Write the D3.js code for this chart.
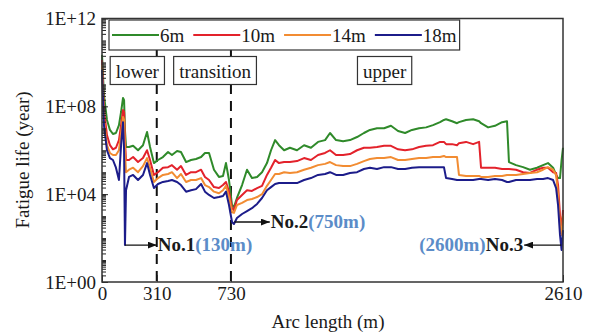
<!DOCTYPE html>
<html>
<head>
<meta charset="utf-8">
<script src="https://cdn.jsdelivr.net/npm/d3@7"></script>
<style>
  body { margin: 0; background: #fff; }
  svg text { font-family: "Liberation Serif", "Times New Roman", serif; fill: #1a1a1a; }
</style>
</head>
<body>
<figure id="chart" style="margin:0"></figure>
<script>
// arc length along the route (m)
const arcLength = [0, 11, 28, 45, 62, 79, 96, 108, 119, 125,
  130, 136, 153, 176, 204, 232, 255, 272, 294, 317,
  345, 374, 396, 425, 447, 476, 504, 532, 561, 583,
  606, 634, 662, 685, 702, 719, 736, 747, 764, 793,
  821, 849, 878, 906, 934, 957, 980, 1002, 1031, 1064,
  1104, 1144, 1183, 1223, 1263, 1291, 1325, 1365, 1404, 1444,
  1483, 1517, 1557, 1597, 1636, 1676, 1716, 1755, 1795, 1835,
  1874, 1914, 1936, 1948, 1982, 2010, 2021, 2061, 2101, 2135,
  2146, 2186, 2225, 2265, 2293, 2304, 2344, 2384, 2423, 2463,
  2497, 2525, 2554, 2571, 2582, 2593, 2602, 2610];

// fatigue life (year) per depth
const life6m = [2.2e10, 3.3e8, 2.4e7, 8.4e6, 5.5e6, 6.1e6, 1.4e7, 5.5e7, 2.4e8, 1.9e8,
  8.4e6, 1.4e6, 1.4e6, 1.6e6, 1.0e6, 1.7e6, 6.8e6, 1.4e6, 2.6e5, 3.6e5,
  4.9e5, 8.3e5, 6.1e5, 9.2e5, 8.3e5, 2.9e5, 3.6e5, 4.0e5, 4.9e5, 7.5e5,
  7.5e5, 1.3e5, 6.1e4, 6.7e4, 2.6e5, 4.4e4, 3.2e3, 2.6e3, 6.7e3, 2.6e4,
  1.3e5, 5.4e4, 6.1e4, 1.0e5, 2.6e5, 1.0e6, 2.9e6, 1.7e6, 1.0e6, 1.3e6,
  1.0e6, 1.7e6, 1.3e6, 2.4e6, 2.9e6, 6.1e6, 2.9e6, 2.6e6, 2.9e6, 4.0e6,
  6.1e6, 8.4e6, 1.0e7, 1.0e7, 1.3e7, 7.5e6, 6.1e6, 8.4e6, 1.0e7, 1.1e7,
  1.4e7, 1.9e7, 2.4e7, 2.6e7, 2.1e7, 1.7e7, 1.9e7, 2.4e7, 2.6e7, 2.1e7,
  1.7e7, 1.1e7, 1.3e7, 1.9e7, 2.1e7, 2.9e5, 2.1e5, 1.7e5, 1.3e5, 1.6e5,
  2.1e5, 2.6e5, 1.6e5, 7.5e4, 5.4e4, 5.4e4, 3.6e5, 1.3e6];

const life10m = [1.3e10, 6.8e7, 4.9e6, 1.7e6, 1.1e6, 1.3e6, 2.9e6, 1.4e7, 6.8e7, 5.5e7,
  2.9e6, 3.6e5, 3.6e5, 4.9e5, 2.9e5, 4.4e5, 1.0e6, 3.6e5, 7.5e4, 1.0e5,
  1.6e5, 1.7e5, 2.1e5, 1.3e5, 1.9e5, 7.5e4, 1.0e5, 1.0e5, 1.3e5, 6.1e4,
  4.4e4, 2.1e4, 1.9e4, 2.6e4, 3.6e4, 1.3e4, 2.3e3, 1.9e3, 5.4e3, 9.2e3,
  1.5e4, 1.4e4, 1.9e4, 2.4e4, 7.5e4, 1.6e5, 3.6e5, 2.6e5, 2.9e5, 2.9e5,
  3.2e5, 4.4e5, 3.6e5, 6.1e5, 7.5e5, 1.0e6, 6.1e5, 6.1e5, 6.7e5, 1.0e6,
  1.3e6, 1.3e6, 1.4e6, 1.6e6, 1.6e6, 1.1e6, 1.0e6, 1.1e6, 1.4e6, 1.6e6,
  1.7e6, 2.4e6, 2.4e6, 1.9e6, 1.9e6, 1.7e6, 2.1e6, 2.4e6, 1.9e6, 2.4e6,
  1.6e5, 1.6e5, 1.6e5, 1.4e5, 1.4e5, 1.4e5, 1.3e5, 1.0e5, 9.2e4, 1.3e5,
  1.6e5, 1.6e5, 1.0e5, 9.2e4, 2.6e4, 1.1e3, 2.3e2, 1.9e3];

const life14m = [7.6e9, 2.4e7, 1.7e6, 7.5e5, 6.1e5, 6.1e5, 1.0e6, 6.1e6, 3.3e7, 2.4e7,
  1.0e6, 1.0e5, 1.3e5, 1.6e5, 1.0e5, 1.9e5, 4.4e5, 1.6e5, 3.6e4, 5.4e4,
  7.5e4, 8.3e4, 1.0e5, 5.4e4, 8.3e4, 3.6e4, 4.4e4, 4.4e4, 5.4e4, 2.6e4,
  2.1e4, 1.3e4, 1.1e4, 1.5e4, 2.4e4, 7.4e3, 1.5e3, 1.4e3, 3.2e3, 4.0e3,
  5.4e3, 6.0e3, 7.4e3, 1.0e4, 2.4e4, 4.4e4, 8.3e4, 8.3e4, 1.0e5, 9.2e4,
  1.0e5, 1.3e5, 1.6e5, 2.1e5, 2.4e5, 2.9e5, 2.1e5, 1.9e5, 1.9e5, 2.4e5,
  3.2e5, 4.0e5, 4.4e5, 4.4e5, 4.9e5, 3.6e5, 3.6e5, 4.0e5, 4.4e5, 4.4e5,
  4.9e5, 4.9e5, 5.5e5, 4.9e5, 4.9e5, 4.9e5, 7.5e4, 6.7e4, 6.7e4, 6.7e4,
  6.1e4, 6.1e4, 6.7e4, 6.7e4, 7.5e4, 7.5e4, 7.5e4, 8.3e4, 9.2e4, 1.0e5,
  1.3e5, 1.7e5, 1.3e5, 7.5e4, 9.2e3, 3.9e2, 1.4e2, 1.1e3];

const life18m = [4.5e9, 1.4e7, 1.0e6, 4.4e5, 3.6e5, 1.6e5, 4.4e4, 1.7e6, 1.9e7, 1.0e6,
  48, 1.5e4, 6.1e4, 7.5e4, 4.4e4, 7.5e4, 2.6e5, 7.5e4, 1.9e4, 2.9e4,
  3.6e4, 4.0e4, 4.4e4, 3.6e4, 2.6e4, 1.3e4, 1.5e4, 1.7e4, 2.9e4, 1.3e4,
  9.2e3, 6.7e3, 7.4e3, 8.2e3, 1.3e4, 3.2e3, 5.4e2, 4.4e2, 8.2e2, 1.25e3,
  1.7e3, 2.3e3, 3.6e3, 6.7e3, 1.5e4, 2.1e4, 2.9e4, 3.2e4, 3.2e4, 3.2e4,
  3.2e4, 4.4e4, 5.4e4, 7.5e4, 8.3e4, 1.0e5, 7.5e4, 7.5e4, 9.2e4, 1.0e5,
  1.4e5, 1.6e5, 1.4e5, 1.7e5, 1.7e5, 1.4e5, 1.4e5, 1.6e5, 1.7e5, 1.7e5,
  1.7e5, 1.7e5, 1.7e5, 5.4e4, 4.9e4, 4.4e4, 4.4e4, 4.4e4, 4.4e4, 4.9e4,
  4.9e4, 4.4e4, 4.9e4, 4.4e4, 3.6e4, 3.6e4, 4.4e4, 4.4e4, 4.4e4, 4.9e4,
  4.9e4, 5.4e4, 4.4e4, 1.9e4, 3.2e3, 1.4e2, 29, 2.3e2];

const seriesNames = ["6m", "10m", "14m", "18m"];
const seriesValues = [life6m, life10m, life14m, life18m];
const seriesColors = ["#2f8a2a", "#e3222b", "#f28c32", "#1c1c8a"];

const xTicks = [0, 310, 730, 2610];
const yTicks = [1, 1e4, 1e8, 1e12];
const boundaries = [310, 730];
const zoneNames = ["lower", "transition", "upper"];
const zoneLabelAt = [200, 640, 1600];

// critical points: [label, note, arc length, fatigue life, arrow tip arc length]
const critical = [
  ["No.1", "(130m)", 130, 48, 310],
  ["No.2", "(750m)", 750, 540, 950],
  ["No.3", "(2600m)", 2600, 48, 2390]
];

const width = 592, height = 335;
const margin = { left: 102, right: 29, top: 18.5, bottom: 53 };
const w = width - margin.left - margin.right;
const h = height - margin.top - margin.bottom;
const fontSize = 19;
const noteColor = "#5b8cc8";

const svg = d3.select("figure#chart").append("svg")
  .attr("width", width)
  .attr("height", height);

svg.append("defs").append("marker")
  .attr("id", "arrow")
  .attr("markerUnits", "userSpaceOnUse")
  .attr("markerWidth", 9).attr("markerHeight", 7)
  .attr("refX", 9).attr("refY", 3.5)
  .attr("orient", "auto")
  .append("path").attr("d", "M0,0L9,3.5L0,7Z").attr("fill", "#111");

const g = svg.append("g")
  .attr("transform", "translate(" + margin.left + "," + margin.top + ")");

const x = d3.scaleLinear().domain([0, 2610]).range([0, w]);
const y = d3.scaleLog().domain([1, 1e12]).range([h, 0]);

// zone boundaries
g.selectAll(".boundary")
  .data(boundaries)
  .enter()
  .append("line")
  .attr("x1", d => x(d)).attr("x2", d => x(d))
  .attr("y1", 50 - margin.top).attr("y2", h)
  .attr("stroke", "#111")
  .attr("stroke-width", 2)
  .attr("stroke-dasharray", "10,7");

// series
const line = d3.line()
  .x((d, i) => x(arcLength[i]))
  .y(d => y(d));

g.selectAll(".series")
  .data(seriesValues)
  .enter()
  .append("path")
  .attr("d", d => line(d))
  .attr("fill", "none")
  .attr("stroke", (d, i) => seriesColors[i])
  .attr("stroke-width", 2)
  .attr("stroke-linejoin", "round");

// axes
const yMinor = g.append("g")
  .call(d3.axisLeft(y).tickValues(y.ticks(200)).tickSize(-4).tickFormat(""));
yMinor.select(".domain").remove();

const yMajor = g.append("g")
  .call(d3.axisLeft(y)
    .tickValues(yTicks)
    .tickSize(-6)
    .tickPadding(6)
    .tickFormat(d => "1E+" + String(Math.round(Math.log10(d))).padStart(2, "0")));
yMajor.select(".domain").remove();

const xAxis = g.append("g")
  .attr("transform", "translate(0," + h + ")")
  .call(d3.axisBottom(x).tickValues(xTicks).tickSize(-7).tickPadding(5).tickFormat(d3.format("d")));
xAxis.select(".domain").remove();

svg.selectAll(".tick line").attr("stroke", "#222");
svg.selectAll(".tick text")
  .attr("font-family", "Liberation Serif, Times New Roman, serif")
  .attr("font-size", fontSize)
  .attr("fill", "#1a1a1a");

// frame
g.append("rect")
  .attr("width", w).attr("height", h)
  .attr("fill", "none")
  .attr("stroke", "#333")
  .attr("stroke-width", 1.5);

// zone labels in boxes
zoneNames.forEach((name, i) => {
  const zg = g.append("g");
  const t = zg.append("text")
    .attr("x", x(zoneLabelAt[i]))
    .attr("y", 78 - margin.top)
    .attr("text-anchor", "middle")
    .attr("font-size", fontSize)
    .text(name);
  const tw = t.node().getComputedTextLength();
  zg.insert("rect", "text")
    .attr("x", x(zoneLabelAt[i]) - tw / 2 - 5.5)
    .attr("y", 56.5 - margin.top)
    .attr("width", tw + 11)
    .attr("height", 28)
    .attr("fill", "#fff")
    .attr("stroke", "#333")
    .attr("stroke-width", 1.2);
});

// legend
const legend = g.append("g");
let lx = 112 - margin.left;
const ly = 35 - margin.top;
const gap = 9;
seriesNames.forEach((name, i) => {
  legend.append("line")
    .attr("x1", lx).attr("x2", lx + 47)
    .attr("y1", ly).attr("y2", ly)
    .attr("stroke", seriesColors[i])
    .attr("stroke-width", 2);
  const t = legend.append("text")
    .attr("x", lx + 48)
    .attr("y", ly + 7)
    .attr("font-size", fontSize)
    .text(name);
  lx += 48 + t.node().getComputedTextLength() + gap;
});
legend.insert("rect", ":first-child")
  .attr("x", 109 - margin.left)
  .attr("y", 20 - margin.top)
  .attr("width", lx - gap + 3 - (109 - margin.left))
  .attr("height", 30)
  .attr("fill", "#fff")
  .attr("stroke", "#333")
  .attr("stroke-width", 1.2);

// critical points
critical.forEach(([label, note, at, life, tip]) => {
  const yy = y(life);
  const toRight = tip > at;
  g.append("line")
    .attr("x1", x(at)).attr("x2", x(tip))
    .attr("y1", yy).attr("y2", yy)
    .attr("stroke", "#111")
    .attr("stroke-width", 1.3)
    .attr("marker-end", "url(#arrow)");
  const t = g.append("text")
    .attr("x", x(tip) + (toRight ? 1 : -1))
    .attr("y", yy + 6)
    .attr("text-anchor", toRight ? "start" : "end")
    .attr("font-size", fontSize)
    .attr("font-weight", "bold");
  if (toRight) {
    t.append("tspan").text(label);
    t.append("tspan").attr("fill", noteColor).text(note);
  } else {
    t.append("tspan").attr("fill", noteColor).text(note);
    t.append("tspan").text(label);
  }
});

// axis titles
svg.append("text")
  .attr("x", 328)
  .attr("y", 328)
  .attr("text-anchor", "middle")
  .attr("font-size", fontSize)
  .text("Arc length (m)");

svg.append("text")
  .attr("transform", "translate(29,160) rotate(-90)")
  .attr("text-anchor", "middle")
  .attr("font-size", fontSize)
  .text("Fatigue life (year)");
</script>
</body>
</html>
